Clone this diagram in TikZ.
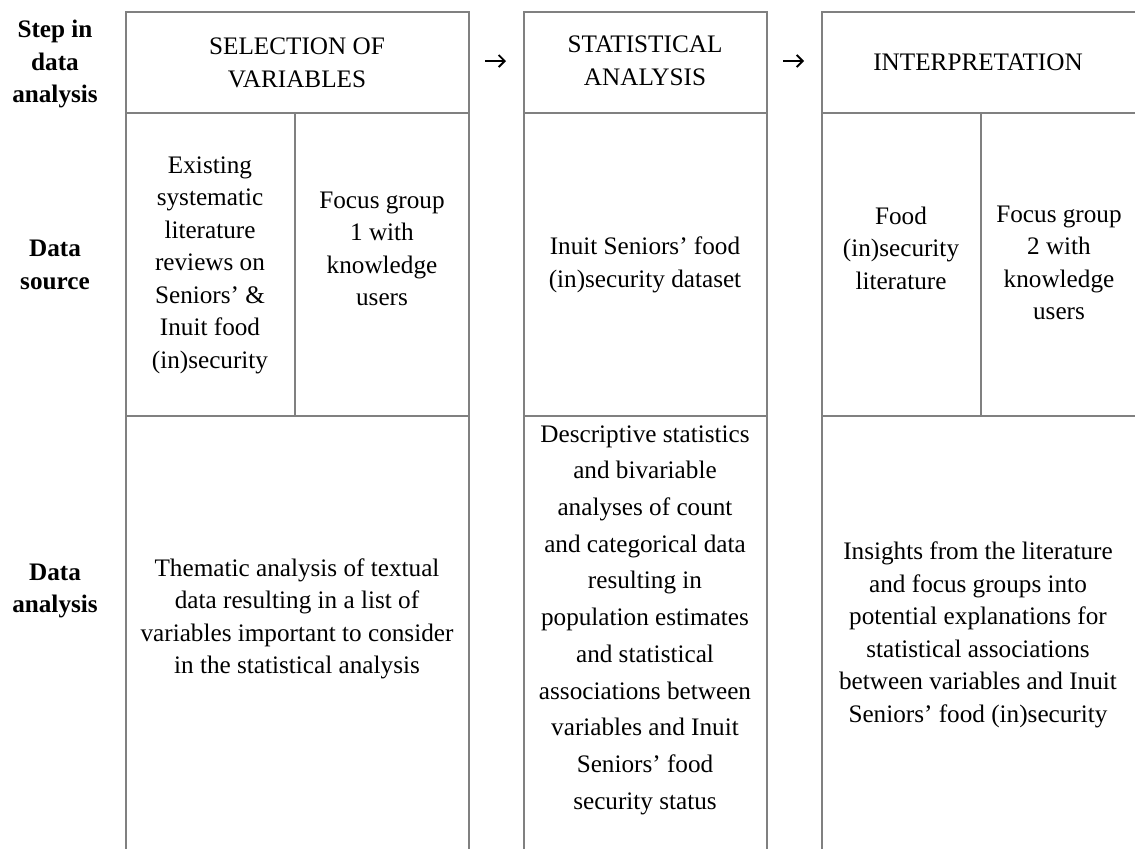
\documentclass[tikz,border=0pt]{standalone}
\usepackage{fontspec}
\setmainfont{Liberation Serif}
\usepackage{tikz}
\usetikzlibrary{arrows.meta}
\tikzset{every picture/.style={x=0.5pt,y=-0.5pt}}
\tikzset{
  rule/.style={draw=gray, line width=1pt},
  cell/.style={align=center, inner sep=0pt, font=\fontsize{12.6}{16.25}\selectfont},
  widecell/.style={cell, font=\fontsize{12.6}{18.35}\selectfont},
  rowhead/.style={cell, font=\fontsize{12.6}{16.25}\selectfont\bfseries},
  flow/.style={-{Straight Barb[length=3pt,width=6pt]}, line width=0.95pt}
}

\begin{document}
\begin{tikzpicture}
    \useasboundingbox (0,0) rectangle (1135,848);
    % row labels on the left
    \node[rowhead] (step) at (55,64) {Step in\\data\\analysis};
    \node[rowhead] (source) at (55,265) {Data\\source};
    \node[rowhead] (analysis) at (55,591) {Data\\analysis};

    % first block: selection of variables
    \draw[rule] (126,850) -- (126,12) -- (469,12) -- (469,850);
    \draw[rule] (126,113) -- (469,113);
    \draw[rule] (126,416) -- (469,416);
    \draw[rule] (295,113) -- (295,416);
    \node[cell] (select) at (297,63) {SELECTION OF\\VARIABLES};
    \node[cell] (reviews) at (210,265) {Existing\\systematic\\literature\\reviews on\\Seniors’ \&\\Inuit food\\(in)security};
    \node[cell] (focusa) at (382,249) {Focus group\\1 with\\knowledge\\users};
    \node[cell] (thematic) at (297,619) {Thematic analysis of textual\\data resulting in a list of\\variables important to consider\\in the statistical analysis};

    % second block: statistical analysis
    \draw[rule] (524,850) -- (524,12) -- (767,12) -- (767,850);
    \draw[rule] (524,113) -- (767,113);
    \draw[rule] (524,416) -- (767,416);
    \node[cell] (stats) at (645,61) {STATISTICAL\\ANALYSIS};
    \node[cell] (dataset) at (645,265) {Inuit Seniors’ food\\(in)security dataset};
    \node[widecell] (descr) at (645,620) {Descriptive statistics\\and bivariable\\analyses of count\\and categorical data\\resulting in\\population estimates\\and statistical\\associations between\\variables and Inuit\\Seniors’ food\\security status};

    % third block: interpretation
    \draw[rule] (822,850) -- (822,12) -- (1140,12);
    \draw[rule] (822,113) -- (1140,113);
    \draw[rule] (822,416) -- (1140,416);
    \draw[rule] (981,113) -- (981,416);
    \node[cell] (interp) at (978,62) {INTERPRETATION};
    \node[cell] (foodlit) at (901,248) {Food\\(in)security\\literature};
    \node[cell] (focusb) at (1059,263) {Focus group\\2 with\\knowledge\\users};
    \node[cell] (insights) at (978,635) {Insights from the literature\\and focus groups into\\potential explanations for\\statistical associations\\between variables and Inuit\\Seniors’ food (in)security};

    % arrows between the steps
    \coordinate (a1) at (485,61);
    \coordinate (b1) at (506,61);
    \coordinate (a2) at (783,61);
    \coordinate (b2) at (804,61);
    \draw[flow] (a1) -- (b1);
    \draw[flow] (a2) -- (b2);
\end{tikzpicture}
\end{document}
